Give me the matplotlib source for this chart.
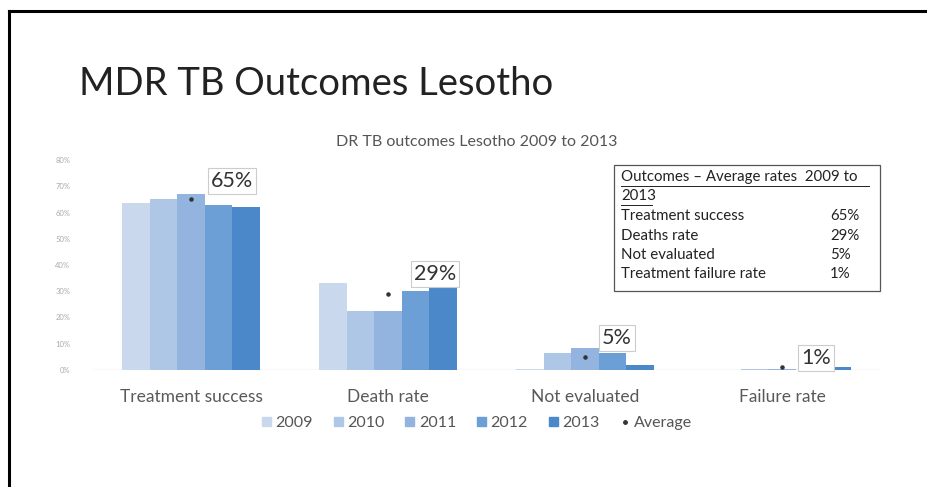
import matplotlib
matplotlib.use("Agg")
import matplotlib.pyplot as plt
import numpy as np
from matplotlib.lines import Line2D
from matplotlib.patches import Patch, Rectangle

plt.rcParams["font.family"] = ["Lato", "DejaVu Sans"]

categories = ["Treatment success", "Death rate", "Not evaluated", "Failure rate"]
years = ["2009", "2010", "2011", "2012", "2013"]
values = {
    "2009": [63.5, 33.0, 0.5, 0.1],
    "2010": [65.0, 22.5, 6.5, 0.4],
    "2011": [67.0, 22.5, 8.4, 0.3],
    "2012": [62.8, 30.0, 6.5, 0.1],
    "2013": [62.0, 32.0, 2.0, 1.2],
}
average = [65, 29, 5, 1]
average_labels = ["65%", "29%", "5%", "1%"]
y_ticks = [0, 10, 20, 30, 40, 50, 60, 70, 80]

table_rows = [
    ("Treatment success", "65%"),
    ("Deaths rate", "29%"),
    ("Not evaluated", "5%"),
    ("Treatment failure rate", "1%"),
]

colors = ["#c9d8ec", "#afc7e6", "#93b4de", "#6b9fd6", "#4a88ca"]
label_offsets = [(41, 18), (47, 20), (32, 19), (34, 9)]

W, H = 927, 487
fig = plt.figure(figsize=(W / 100, H / 100), dpi=100)
fig.patch.set_facecolor("white")


def fx(px):
    return px / W


def fy(py):
    return 1 - py / H


# slide border (top and left only)
fig.add_artist(Line2D([fx(8.5), 1], [fy(10.5), fy(10.5)], color="black", lw=2.2))
fig.add_artist(Line2D([fx(8.5), fx(8.5)], [fy(10.5), 0], color="black", lw=2.2))

fig.text(fx(79), fy(84), "MDR TB Outcomes Lesotho", fontsize=27.5, color="#222222",
         ha="left", va="center")

ax = fig.add_axes([fx(92.5), fy(370), fx(788), 210 / H])
x = np.arange(len(categories))
bw = 0.14
for i, yr in enumerate(years):
    ax.bar(x + (i - 2) * bw, values[yr], width=bw, color=colors[i], label=yr, zorder=2)

ax.scatter(x, average, s=5, color="#333333", zorder=3, label="Average")
for xi, v, lab, off in zip(x, average, average_labels, label_offsets):
    ax.annotate(lab, (xi, v), xytext=off, textcoords="offset pixels",
                ha="center", va="center", fontsize=15.5, color="#333333", zorder=4,
                bbox=dict(boxstyle="square,pad=0.14", fc="white", ec="#cccccc", lw=0.8))

ax.set_xlim(-0.5, 3.5)
ax.set_ylim(0, 80)
ax.set_yticks(y_ticks)
ax.set_yticklabels([f"{t}%" for t in y_ticks], fontsize=5.5, color="#aaaaaa")
ax.set_xticks(x)
ax.set_xticklabels(categories, fontsize=12.5, color="#595959")
ax.tick_params(axis="both", length=0)
ax.tick_params(axis="y", pad=16)
ax.tick_params(axis="x", pad=14)
for sp in ax.spines.values():
    sp.set_visible(False)
ax.axhline(0, color="#dddddd", lw=1, zorder=1)
ax.set_facecolor("none")

fig.text(fx(477), fy(142), "DR TB outcomes Lesotho 2009 to 2013", fontsize=11.5,
         color="#555555", ha="center", va="center")

handles = [Patch(color=c, label=y) for c, y in zip(colors, years)]
handles.append(Line2D([], [], marker="o", ls="none", color="#333333", markersize=2.5,
                      label="Average"))
fig.legend(handles=handles, loc="center", bbox_to_anchor=(fx(477), fy(423)), ncol=6,
           frameon=False, fontsize=11.5, handlelength=0.55, handleheight=0.55,
           handletextpad=0.3, columnspacing=1.3, labelcolor="#555555")

# summary box
fig.add_artist(Rectangle((fx(614), fy(291)), fx(266), 126 / H, transform=fig.transFigure,
                         fill=False, ec="#555555", lw=0.9))
fs = 10.8
fig.text(fx(621), fy(177), "Outcomes \u2013 Average rates  2009 to", fontsize=fs,
         color="#222222", ha="left", va="center")
fig.text(fx(621), fy(196), "2013", fontsize=fs, color="#222222", ha="left", va="center")
fig.add_artist(Line2D([fx(621), fx(869)], [fy(186), fy(186)], color="#222222", lw=0.7))
fig.add_artist(Line2D([fx(621), fx(652)], [fy(205), fy(205)], color="#222222", lw=0.7))
for i, (name, val) in enumerate(table_rows):
    yy = fy(216 + i * 19.5)
    fig.text(fx(621), yy, name, fontsize=fs, color="#222222", ha="left", va="center")
    fig.text(fx(830), yy, val, fontsize=fs, color="#222222", ha="left", va="center")

fig.savefig("out.png", dpi=100)
